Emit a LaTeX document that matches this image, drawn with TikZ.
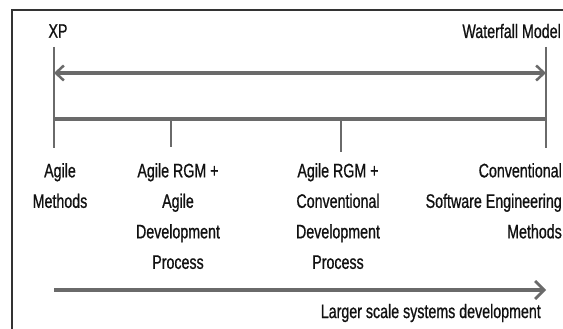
\documentclass[tikz,border=0pt]{standalone}
\usepackage{fontspec}
\setmainfont{Liberation Sans}[FakeStretch=0.73,FakeBold=0.8]
\usetikzlibrary{arrows.meta}
\definecolor{linegray}{HTML}{6A6A6A}
\definecolor{txt}{HTML}{111111}
\begin{document}
\begin{tikzpicture}[x=1pt,y=-1pt,
  lbl/.style={text=txt,font=\fontsize{19.5}{30.5}\selectfont,inner sep=0pt,align=center},
  axis/.style={draw=linegray,line width=3.2pt},
  tick/.style={draw=linegray,line width=2.5pt},
  frame/.style={draw=black!80,line width=1.3pt}]
\useasboundingbox[fill=white] (0,0) rectangle (563,329);
\draw[frame] (12,329) -- (12,10) -- (563,10);
% top labels
\node[lbl] (xp) at (58,31) {XP};
\node[lbl,anchor=east] (wf) at (561,31) {Waterfall Model};
% coordinates
\coordinate (lt) at (54,47);
\coordinate (lb) at (54,148);
\coordinate (rt) at (546,47);
\coordinate (rb) at (546,148);
\coordinate (la) at (54,73);
\coordinate (ra) at (546,73);
\coordinate (lbar) at (54,119);
\coordinate (rbar) at (546,119);
\coordinate (t1a) at (171,119);
\coordinate (t1b) at (171,147);
\coordinate (t2a) at (341,121);
\coordinate (t2b) at (341,152);
\draw[tick] (lt) -- (lb);
\draw[tick] (rt) -- (rb);
\draw[axis,{Straight Barb[length=8pt,width=15pt,line width=2.5pt]}-{Straight Barb[length=8pt,width=15pt,line width=2.5pt]}] (la) -- (ra);
\draw[axis] (lbar) -- (rbar);
\draw[tick] (t1a) -- (t1b);
\draw[tick] (t2a) -- (t2b);
% lower labels
\node[lbl,anchor=north] (c1) at (60,163) {Agile\\Methods};
\node[lbl,anchor=north] (c2) at (178,163) {Agile RGM +\\Agile\\Development\\Process};
\node[lbl,anchor=north] (c3) at (338,163) {Agile RGM +\\Conventional\\Development\\Process};
\node[lbl,anchor=north east,align=right] (c4) at (562,163) {Conventional\\Software Engineering\\Methods};
% bottom arrow
\coordinate (ba) at (54,290);
\coordinate (bb) at (546,290);
\draw[draw=linegray,line width=4.8pt,-{Straight Barb[length=9pt,width=18pt,line width=2.8pt]}] (ba) -- (bb);
\node[lbl,anchor=east] (ls) at (541,313) {Larger scale systems development};
\end{tikzpicture}
\end{document}
